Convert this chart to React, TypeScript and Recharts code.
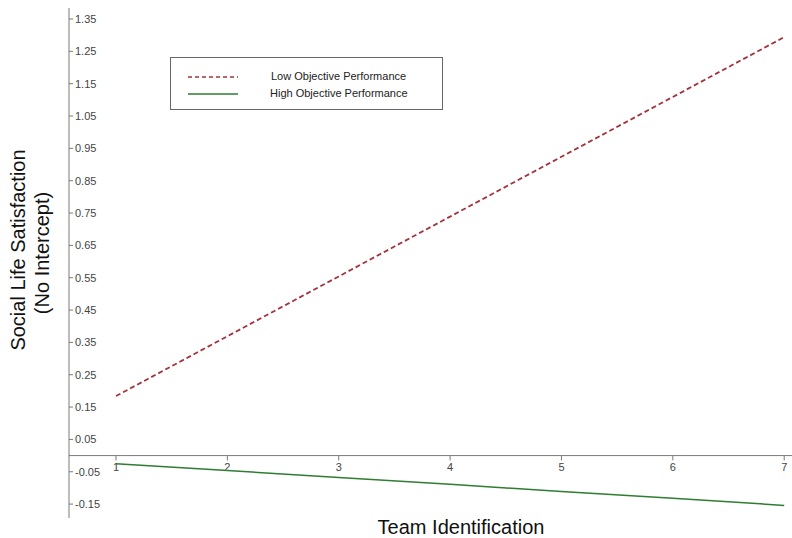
import { LineChart, Line, XAxis, YAxis, ReferenceLine } from 'recharts';

const teamId = [1, 2, 3, 4, 5, 6, 7];
const lowPerf = [0.184, 0.369, 0.554, 0.739, 0.924, 1.109, 1.294];
const highPerf = [-0.025, -0.046, -0.068, -0.089, -0.111, -0.132, -0.154];
const yTicks = [1.35, 1.25, 1.15, 1.05, 0.95, 0.85, 0.75, 0.65, 0.55, 0.45, 0.35, 0.25, 0.15, 0.05, -0.05, -0.15];

const data = teamId.map((t, i) => ({ t, low: lowPerf[i], high: highPerf[i] }));

const font = '"Liberation Sans", Arial, sans-serif';
const axisGray = '#7a7a7a';
const lowColor = '#a3333d';
const highColor = '#2e7d32';

const TickLabel = ({ viewBox, value }: any) => {
  if (!viewBox) return null;
  return (
    <text
      x={viewBox.x}
      y={viewBox.y + viewBox.height + 11}
      textAnchor="middle"
      fontSize={11}
      fill="#444"
      fontFamily={font}
    >
      {value}
    </text>
  );
};

const LegendBox = () => (
  <div
    style={{
      position: 'absolute',
      left: 170,
      top: 57,
      width: 271,
      height: 51,
      border: '1px solid #666',
      background: '#fff',
      fontFamily: font,
      fontSize: 11,
      color: '#222',
    }}
  >
    <svg width={60} height={51} style={{ position: 'absolute', left: 14, top: 0 }}>
      <line x1={3} y1={19} x2={53} y2={19} stroke={lowColor} strokeWidth={1.5} strokeDasharray="4 3" />
      <line x1={3} y1={36} x2={53} y2={36} stroke={highColor} strokeWidth={1.5} />
    </svg>
    <div style={{ position: 'absolute', left: 100, top: 12 }}>Low Objective Performance</div>
    <div style={{ position: 'absolute', left: 99, top: 29 }}>High Objective Performance</div>
  </div>
);

export default function App() {
  return (
    <div style={{ position: 'absolute', left: 0, top: 0, width: 792, height: 538, background: '#fff' }}>
      <LineChart width={792} height={538} data={data} margin={{ top: 8, right: 0, bottom: 20, left: 69 }}>
        <XAxis dataKey="t" type="number" domain={[0.578, 7.07]} hide />
        <YAxis
          type="number"
          domain={[-0.193, 1.384]}
          ticks={yTicks}
          mirror
          tickSize={4}
          axisLine={{ stroke: axisGray }}
          tickLine={{ stroke: axisGray }}
          tick={{ fontSize: 11, fill: '#444', fontFamily: font }}
          tickFormatter={(v: number) => v.toFixed(2)}
        />
        <ReferenceLine y={0} stroke={axisGray} strokeWidth={1} />
        {teamId.map((t) => (
          <ReferenceLine
            key={t}
            segment={[{ x: t, y: 0 }, { x: t, y: -0.015 }]}
            stroke={axisGray}
            label={<TickLabel value={t} />}
          />
        ))}
        <Line
          dataKey="low"
          stroke={lowColor}
          strokeWidth={1.8}
          strokeDasharray="5 3"
          dot={false}
          isAnimationActive={false}
        />
        <Line
          dataKey="high"
          stroke={highColor}
          strokeWidth={1.5}
          dot={false}
          isAnimationActive={false}
        />
      </LineChart>
      <LegendBox />
      <div
        style={{
          position: 'absolute',
          left: 18,
          top: 250,
          transform: 'translate(-50%, -50%) rotate(-90deg)',
          fontFamily: font,
          fontSize: 20,
          color: '#111',
          whiteSpace: 'nowrap',
          lineHeight: '24px',
        }}
      >
        Social Life Satisfaction
      </div>
      <div
        style={{
          position: 'absolute',
          left: 42,
          top: 253,
          transform: 'translate(-50%, -50%) rotate(-90deg)',
          fontFamily: font,
          fontSize: 20,
          color: '#111',
          whiteSpace: 'nowrap',
          lineHeight: '24px',
        }}
      >
        (No Intercept)
      </div>
      <div
        style={{
          position: 'absolute',
          left: 461,
          top: 527,
          transform: 'translate(-50%, -50%)',
          fontFamily: font,
          fontSize: 20,
          color: '#111',
          whiteSpace: 'nowrap',
        }}
      >
        Team Identification
      </div>
    </div>
  );
}
